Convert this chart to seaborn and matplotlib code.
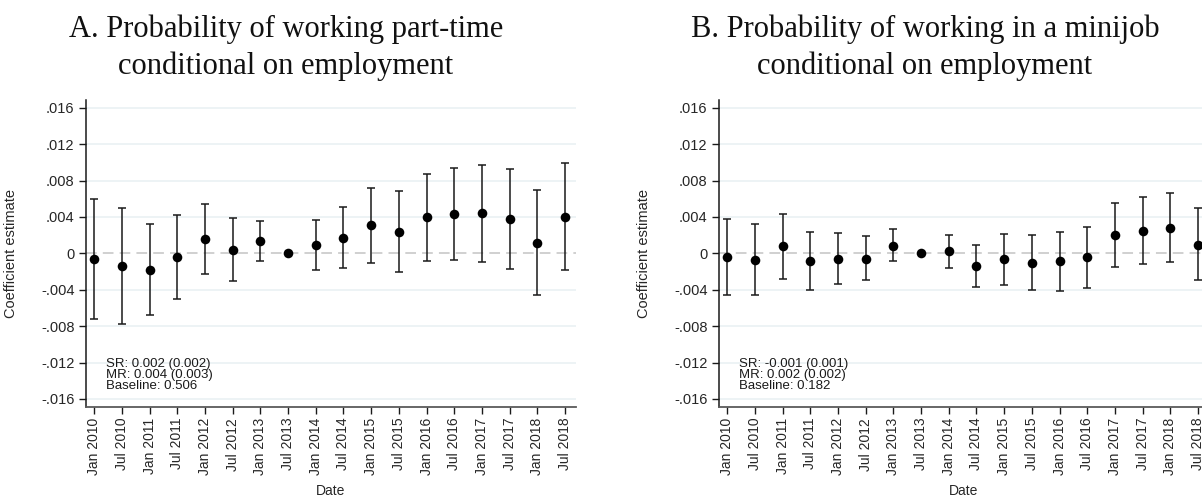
import matplotlib
matplotlib.use('Agg')
import matplotlib.pyplot as plt
import numpy as np
import pandas as pd
import seaborn as sns

dates = ['Jan 2010', 'Jul 2010', 'Jan 2011', 'Jul 2011', 'Jan 2012', 'Jul 2012',
         'Jan 2013', 'Jul 2013', 'Jan 2014', 'Jul 2014', 'Jan 2015', 'Jul 2015',
         'Jan 2016', 'Jul 2016', 'Jan 2017', 'Jul 2017', 'Jan 2018', 'Jul 2018']

# panel A: part-time
pt_coef = [-0.00066, -0.00143, -0.0018, -0.00044, 0.00154, 0.0004, 0.00136, 0.0,
           0.00092, 0.00172, 0.00308, 0.00238, 0.00396, 0.00432, 0.0044, 0.00377,
           0.00117, 0.004]
pt_hi = [0.00597, 0.00498, 0.00322, 0.00425, 0.00546, 0.00392, 0.00355, 0.0,
         0.0037, 0.00509, 0.00714, 0.00681, 0.00875, 0.00934, 0.00974, 0.00927,
         0.00696, 0.00989]
pt_lo = [-0.00718, -0.0078, -0.00674, -0.00502, -0.00231, -0.003, -0.0008, 0.0,
         -0.00183, -0.00161, -0.00103, -0.00201, -0.00084, -0.0007, -0.00092, -0.00172,
         -0.00454, -0.00187]

# panel B: minijob
mj_coef = [-0.00044, -0.00073, 0.00077, -0.00088, -0.00066, -0.00059, 0.00084, 0.0,
           0.00026, -0.00139, -0.00066, -0.00103, -0.00088, -0.00044, 0.00201, 0.00249,
           0.00282, 0.00095]
mj_hi = [0.00377, 0.00319, 0.00436, 0.00234, 0.0022, 0.00187, 0.00264, 0.0,
         0.00205, 0.00092, 0.00212, 0.00198, 0.00231, 0.00293, 0.00553, 0.00615,
         0.00663, 0.00495]
mj_lo = [-0.00458, -0.00454, -0.00278, -0.00407, -0.00341, -0.00293, -0.00088, 0.0,
         -0.00158, -0.0037, -0.00344, -0.00407, -0.0041, -0.00385, -0.0015, -0.00121,
         -0.00099, -0.00297]

titles = ['A. Probability of working part-time\nconditional on employment',
          'B. Probability of working in a minijob\nconditional on employment']
notes = ['SR: 0.002 (0.002)\nMR: 0.004 (0.003)\nBaseline: 0.506',
         'SR: -0.001 (0.001)\nMR: 0.002 (0.002)\nBaseline: 0.182']

yticks = [0.016, 0.012, 0.008, 0.004, 0, -0.004, -0.008, -0.012, -0.016]
ytick_labels = ['.016', '.012', '.008', '.004', '0', '-.004', '-.008', '-.012', '-.016']

sns.set_style('white')
plt.rcParams['font.family'] = ['Liberation Sans', 'DejaVu Sans']

W, H = 1202, 501
fig = plt.figure(figsize=(W / 100, H / 100), dpi=100)

panels = [(pt_coef, pt_lo, pt_hi), (mj_coef, mj_lo, mj_hi)]
ax_left_px = [85.7, 718.7]
title_x_px = [286, 925]

for i, (coef, lo, hi) in enumerate(panels):
    ax = fig.add_axes([ax_left_px[i] / W, (H - 406.7) / H, 490.3 / W, 306.7 / H])
    df = pd.DataFrame({'x': np.arange(len(dates)), 'date': dates,
                       'coef': coef, 'lo': lo, 'hi': hi})

    for y in yticks:
        if y != 0:
            ax.axhline(y, color='#e8f0f2', lw=1.1, zorder=0)
    ax.axhline(0, color='#c4c4c4', lw=1.1, ls=(0, (7, 4)), zorder=1)

    ax.errorbar(df['x'], df['coef'],
                yerr=[df['coef'] - df['lo'], df['hi'] - df['coef']],
                fmt='none', ecolor='#1a1a1a', elinewidth=1.1, capsize=3.2,
                capthick=1.1, zorder=2)
    sns.scatterplot(data=df, x='x', y='coef', ax=ax, color='black', s=48,
                    edgecolor='black', linewidth=0, zorder=3, legend=False)

    ax.set_xlim(-0.31, 17.4)
    ax.set_ylim(-0.01685, 0.01685)
    ax.set_yticks(yticks, ytick_labels, fontsize=10.5)
    ax.set_xticks(df['x'], df['date'], rotation=90, fontsize=10)
    ax.tick_params(axis='both', direction='out', length=5, width=1, color='#1a1a1a',
                   left=True, bottom=True, pad=3)
    ax.set_xlabel('Date', fontsize=10, labelpad=6)
    ax.set_ylabel('Coefficient estimate', fontsize=10.5)
    ax.yaxis.set_label_coords(-0.138, 0.5)

    for side in ['top', 'right']:
        ax.spines[side].set_visible(False)
    ax.spines['left'].set_color('#1a1a1a')
    ax.spines['bottom'].set_color('#5a5a5a')
    ax.spines['left'].set_linewidth(1.1)
    ax.spines['bottom'].set_linewidth(1.3)

    ax.text(0.041, 0.16, notes[i], transform=ax.transAxes, ha='left', va='top',
            fontsize=9.5, linespacing=0.9, color='#1a1a1a')

    fig.text(title_x_px[i] / W, 1 - 15 / H, titles[i], ha='center', va='top',
             fontsize=22, family='Liberation Serif', linespacing=1.3,
             color='#111111')

fig.savefig('out.png', dpi=100)
